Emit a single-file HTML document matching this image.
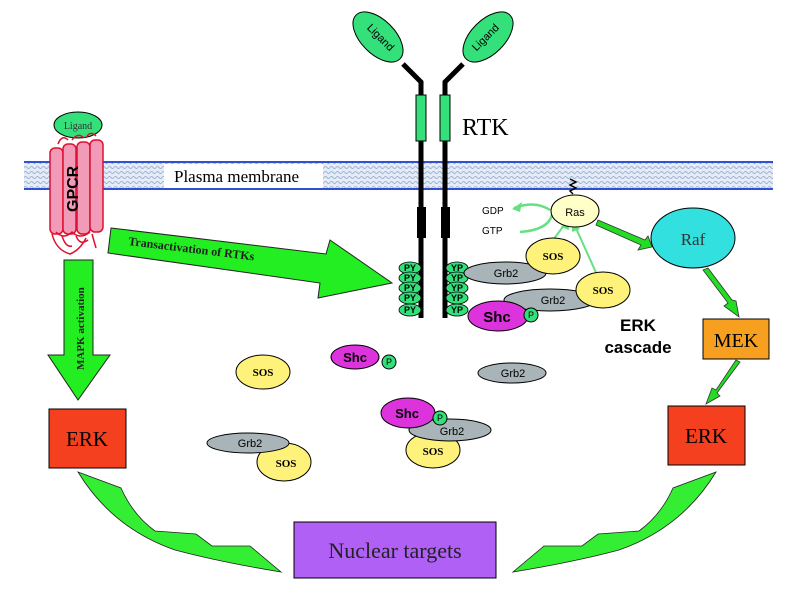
<!DOCTYPE html>
<html><head><meta charset="utf-8"><style>body{margin:0;background:#fff}svg{display:block}</style></head><body>
<svg width="794" height="595" viewBox="0 0 794 595" xmlns="http://www.w3.org/2000/svg" font-family="Liberation Sans, sans-serif">
<defs>
<pattern id="h" width="6" height="5" patternUnits="userSpaceOnUse"><rect width="6" height="5" fill="#e4ecf8"/><path d="M0 2.5 Q1.5 0.5 3 2.5 T6 2.5" fill="none" stroke="#8fa4c8" stroke-width="0.8"/></pattern>
</defs>
<rect width="794" height="595" fill="#fff"/>
<!-- membrane -->
<rect x="24" y="162" width="749" height="28" fill="url(#h)"/>
<line x1="24" y1="162" x2="773" y2="162" stroke="#3050d0" stroke-width="2"/>
<line x1="24" y1="189" x2="773" y2="189" stroke="#3050d0" stroke-width="2"/>
<rect x="164" y="164" width="159" height="24" fill="#fff"/>
<text x="174" y="182" font-family="Liberation Serif, serif" font-size="17">Plasma membrane</text>
<!-- GPCR -->
<ellipse cx="78" cy="125" rx="24" ry="13" fill="#33e07a" stroke="#000"/>
<text x="78" y="129" text-anchor="middle" font-family="Liberation Serif, serif" font-size="10" fill="#333">Ligand</text>
<path d="M58 144 Q62 134 68 140 M72 140 Q78 132 84 138 M86 138 Q90 130 96 136" fill="none" stroke="#e01030" stroke-width="1.5"/>
<g fill="#f29bb8" stroke="#e01030" stroke-width="1.5">
<rect x="50" y="148" width="13" height="86" rx="5"/>
<rect x="63" y="144" width="13" height="90" rx="5"/>
<rect x="77" y="142" width="13" height="92" rx="5"/>
<rect x="90" y="140" width="13" height="92" rx="5"/>
</g>
<path d="M52 234 Q56 250 70 254 Q80 250 86 238 M62 236 Q66 248 72 246 M76 236 Q80 246 88 240 M92 234 L96 248 M56 232 Q64 240 72 232 Q80 240 90 232" fill="none" stroke="#e01030" stroke-width="1.5"/>
<text transform="translate(78,212) rotate(-90)" font-size="16" font-weight="bold">GPCR</text>
<!-- MAPK activation arrow -->
<polygon points="64,260 93,260 93,355 110,355 78,400 48,355 64,355" fill="#22ee22" stroke="#222" stroke-width="1"/>
<text transform="translate(84,370) rotate(-90)" font-family="Liberation Serif, serif" font-size="11" font-weight="bold" fill="#222">MAPK activation</text>
<!-- Transactivation arrow -->
<polygon points="111,228 326,254 330,240 392,283 318,298 320,283 108,253" fill="#22ee22" stroke="#222" stroke-width="1"/>
<text transform="translate(128,245) rotate(7)" font-family="Liberation Serif, serif" font-size="12" font-weight="bold" fill="#222">Transactivation of RTKs</text>
<!-- RTK -->
<path d="M421 318 V82 L403 64" fill="none" stroke="#000" stroke-width="5"/>
<path d="M445 318 V82 L463 64" fill="none" stroke="#000" stroke-width="5"/>
<ellipse cx="378" cy="37" rx="31" ry="17" transform="rotate(45 378 37)" fill="#33e07a" stroke="#000"/>
<ellipse cx="488" cy="37" rx="31" ry="17" transform="rotate(-45 488 37)" fill="#33e07a" stroke="#000"/>
<text transform="translate(378,40) rotate(45)" text-anchor="middle" font-size="11">Ligand</text>
<text transform="translate(488,40) rotate(-45)" text-anchor="middle" font-size="11">Ligand</text>
<rect x="416" y="95" width="10" height="46" fill="#33e07a" stroke="#000"/>
<rect x="440" y="95" width="10" height="46" fill="#33e07a" stroke="#000"/>
<rect x="417" y="207" width="9" height="31" fill="#000"/>
<rect x="441" y="207" width="9" height="31" fill="#000"/>
<text x="462" y="135" font-family="Liberation Serif, serif" font-size="24">RTK</text>
<g fill="#33e07a" stroke="#000" stroke-width="0.8">
<ellipse cx="410" cy="268" rx="11" ry="6"/><ellipse cx="410" cy="278" rx="11" ry="6"/><ellipse cx="410" cy="288" rx="11" ry="6"/><ellipse cx="410" cy="298" rx="11" ry="6"/><ellipse cx="410" cy="310" rx="11" ry="6"/>
<ellipse cx="457" cy="268" rx="11" ry="6"/><ellipse cx="457" cy="278" rx="11" ry="6"/><ellipse cx="457" cy="288" rx="11" ry="6"/><ellipse cx="457" cy="298" rx="11" ry="6"/><ellipse cx="457" cy="310" rx="11" ry="6"/>
</g>
<g font-size="9" font-weight="bold" text-anchor="middle" fill="#000">
<text x="410" y="271">PY</text><text x="410" y="281">PY</text><text x="410" y="291">PY</text><text x="410" y="301">PY</text><text x="410" y="313">PY</text>
<text x="457" y="271">YP</text><text x="457" y="281">YP</text><text x="457" y="291">YP</text><text x="457" y="301">YP</text><text x="457" y="313">YP</text>
</g>
<!-- Ras region -->
<path d="M573 194 l-3 -3 6 -3 -6 -3 6 -3 -6 -3" fill="none" stroke="#000" stroke-width="1.5"/>
<text x="482" y="214" font-size="10">GDP</text>
<text x="482" y="234" font-size="10">GTP</text>
<path d="M550 210 Q535 200 514 208 M520 232 Q548 230 552 215" fill="none" stroke="#66e080" stroke-width="2.5"/>
<polygon points="512,209 522,202 520,212" fill="#66e080"/>
<path d="M553 240 L565 224 M598 277 L575 226" stroke="#66e080" stroke-width="2"/>
<polygon points="568,219 569,230 561,227" fill="#66e080"/>
<polygon points="572,221 580,229 572,232" fill="#66e080"/>
<ellipse cx="575" cy="211" rx="24" ry="16" fill="#ffffc8" stroke="#000"/>
<text x="575" y="216" text-anchor="middle" font-size="11">Ras</text>
<polygon points="598,220 645,240 648,236 652,247 638,250 641,245 596,225" fill="#22dd22" stroke="#333" stroke-width="0.8"/>
<ellipse cx="693" cy="238" rx="42" ry="30" fill="#33e0e0" stroke="#000"/>
<text x="693" y="245" text-anchor="middle" font-family="Liberation Serif, serif" font-size="17" fill="#333">Raf</text>
<polygon points="703,270 728,303 724,306 739,317 736,301 732,300 708,268" fill="#22dd22" stroke="#333" stroke-width="0.8"/>
<rect x="703" y="319" width="66" height="40" fill="#f7a020" stroke="#000"/>
<text x="736" y="347" text-anchor="middle" font-family="Liberation Serif, serif" font-size="20">MEK</text>
<polygon points="736,360 716,390 712,388 706,404 720,396 717,393 740,362" fill="#22dd22" stroke="#333" stroke-width="0.8"/>
<text x="638" y="331" text-anchor="middle" font-size="17" font-weight="bold">ERK</text>
<text x="638" y="353" text-anchor="middle" font-size="17" font-weight="bold">cascade</text>
<!-- complexes -->
<g stroke="#000" stroke-width="1">
<ellipse cx="505" cy="273" rx="41" ry="11" fill="#a8b4b8"/>
<ellipse cx="553" cy="256" rx="27" ry="18" fill="#fff27a"/>
<ellipse cx="550" cy="300" rx="46" ry="11" fill="#a8b4b8"/>
<ellipse cx="603" cy="290" rx="27" ry="18" fill="#fff27a"/>
<ellipse cx="498" cy="316" rx="30" ry="15" fill="#dd33dd"/>
<circle cx="531" cy="315" r="7" fill="#33e07a"/>
<ellipse cx="355" cy="357" rx="24" ry="12" fill="#dd33dd"/>
<circle cx="389" cy="362" r="7" fill="#33e07a"/>
<ellipse cx="263" cy="372" rx="27" ry="17" fill="#fff27a"/>
<ellipse cx="512" cy="373" rx="34" ry="10" fill="#a8b4b8"/>
<ellipse cx="433" cy="450" rx="27" ry="18" fill="#fff27a"/>
<ellipse cx="450" cy="430" rx="41" ry="11" fill="#a8b4b8"/>
<ellipse cx="408" cy="413" rx="27" ry="15" fill="#dd33dd"/>
<circle cx="440" cy="418" r="7" fill="#33e07a"/>
<ellipse cx="284" cy="462" rx="27" ry="19" fill="#fff27a"/>
<ellipse cx="248" cy="443" rx="41" ry="10" fill="#a8b4b8"/>
</g>
<g text-anchor="middle" font-size="11">
<text x="506" y="277">Grb2</text>
<text x="553" y="260" font-family="Liberation Serif, serif" font-weight="bold">SOS</text>
<text x="553" y="304">Grb2</text>
<text x="603" y="294" font-family="Liberation Serif, serif" font-weight="bold">SOS</text>
<text x="497" y="322" font-size="15" font-weight="bold">Shc</text>
<text x="531" y="318" font-size="9">P</text>
<text x="355" y="362" font-size="13" font-weight="bold">Shc</text>
<text x="389" y="365" font-size="9">P</text>
<text x="263" y="376" font-family="Liberation Serif, serif" font-weight="bold">SOS</text>
<text x="513" y="377">Grb2</text>
<text x="433" y="455" font-family="Liberation Serif, serif" font-weight="bold">SOS</text>
<text x="452" y="435">Grb2</text>
<text x="407" y="418" font-size="13" font-weight="bold">Shc</text>
<text x="440" y="421" font-size="9">P</text>
<text x="286" y="467" font-family="Liberation Serif, serif" font-weight="bold">SOS</text>
<text x="250" y="447">Grb2</text>
</g>
<!-- ERK boxes -->
<rect x="49" y="409" width="77" height="59" fill="#f54020" stroke="#000"/>
<text x="87" y="446" text-anchor="middle" font-family="Liberation Serif, serif" font-size="21">ERK</text>
<rect x="668" y="406" width="77" height="59" fill="#f54020" stroke="#000"/>
<text x="706" y="443" text-anchor="middle" font-family="Liberation Serif, serif" font-size="21">ERK</text>
<!-- Nuclear targets -->
<rect x="294" y="522" width="202" height="56" fill="#b060f5" stroke="#000"/>
<text x="395" y="558" text-anchor="middle" font-family="Liberation Serif, serif" font-size="22" fill="#222">Nuclear targets</text>
<!-- curved arrows -->
<path d="M78 472 L121 488 Q133 515 155 531 L196 534 L212 546 L250 546 L281 572 Q220 562 175 550 Q112 528 78 472 Z" fill="#33ee33" stroke="#222" stroke-width="0.8"/>
<path d="M716 472 L673 488 Q661 515 639 531 L598 534 L582 546 L544 546 L513 572 Q574 562 619 550 Q682 528 716 472 Z" fill="#33ee33" stroke="#222" stroke-width="0.8"/>
</svg>
</body></html>
